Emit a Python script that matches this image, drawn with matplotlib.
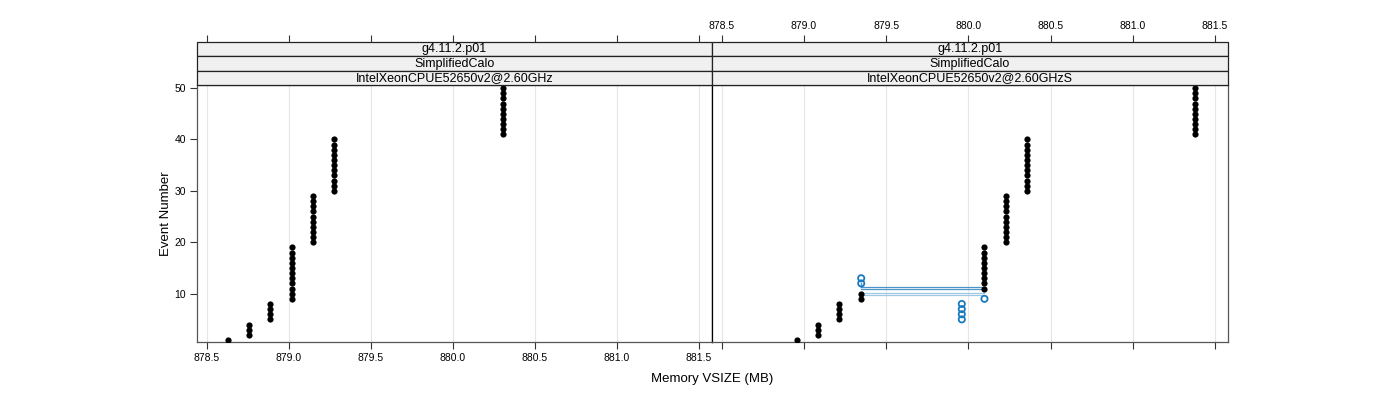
import matplotlib.pyplot as plt
from matplotlib.patches import Rectangle

plt.rcParams['font.family'] = ['Liberation Sans', 'DejaVu Sans']

# strip labels (top to bottom) for each panel
strip_left = ["g4.11.2.p01", "SimplifiedCalo", "IntelXeonCPUE52650v2@2.60GHz"]
strip_right = ["g4.11.2.p01", "SimplifiedCalo", "IntelXeonCPUE52650v2@2.60GHzS"]

# left panel: event number vs memory (MB)
left_events = [1, 2, 3, 4, 5, 6, 7, 8, 9, 10, 11, 12, 13, 14, 15, 16, 17, 18, 19, 20,
               21, 22, 23, 24, 25, 26, 27, 28, 29, 30, 31, 32, 33, 34, 35, 36, 37, 38, 39, 40,
               41, 42, 43, 44, 45, 46, 47, 48, 49, 50]
left_vsize = [878.63, 878.756, 878.756, 878.756, 878.884, 878.884, 878.884, 878.884,
              879.018, 879.018, 879.018, 879.018, 879.018, 879.018, 879.018, 879.018,
              879.018, 879.018, 879.018,
              879.146, 879.146, 879.146, 879.146, 879.146, 879.146, 879.146, 879.146,
              879.146, 879.146,
              879.274, 879.274, 879.274, 879.274, 879.274, 879.274, 879.274, 879.274,
              879.274, 879.274, 879.274,
              880.305, 880.305, 880.305, 880.305, 880.305, 880.305, 880.305, 880.305,
              880.305, 880.305]

# right panel
right_events = left_events
right_vsize = [878.957, 879.085, 879.085, 879.085, 879.213, 879.213, 879.213, 879.213,
               879.348, 879.348,
               880.098, 880.098, 880.098, 880.098, 880.098, 880.098, 880.098, 880.098,
               880.098,
               880.23, 880.23, 880.23, 880.23, 880.23, 880.23, 880.23, 880.23, 880.23, 880.23,
               880.355, 880.355, 880.355, 880.355, 880.355, 880.355, 880.355, 880.355,
               880.355, 880.355, 880.355,
               881.378, 881.378, 881.378, 881.378, 881.378, 881.378, 881.378, 881.378,
               881.378, 881.378]

# blue (differing) points in right panel
diff_events = [12, 13, 9, 5, 6, 7, 8]
diff_vsize = [879.348, 879.348, 880.098, 879.96, 879.96, 879.96, 879.96]

# connecting segments
seg_from = [879.348, 879.348, 879.348, 879.348]
seg_to = [880.098, 880.098, 880.098, 880.098]
seg_event = [11.3, 10.85, 10.1, 9.7]
seg_colors = ['#4a94c8', '#4a94c8', '#9cc8e4', '#9cc8e4']

xticks = [878.5, 879.0, 879.5, 880.0, 880.5, 881.0, 881.5]
yticks = [10, 20, 30, 40, 50]

W, H = 1400, 400
fig = plt.figure(figsize=(W / 100, H / 100), dpi=100)


def box(x0, y0, x1, y1):
    return [x0 / W, 1 - y1 / H, (x1 - x0) / W, (y1 - y0) / H]


axL = fig.add_axes(box(197, 85, 712, 342))
axR = fig.add_axes(box(712, 85, 1228, 342))
stL = fig.add_axes(box(197, 42, 712, 85))
stR = fig.add_axes(box(712, 42, 1228, 85))

xlim = (878.44, 881.58)
ylim = (0.6, 50.6)

for ax in (axL, axR):
    ax.set_xlim(xlim)
    ax.set_ylim(ylim)
    ax.set_xticks(xticks)
    ax.set_xticklabels([f"{t:.1f}" for t in xticks])
    for t in xticks:
        ax.axvline(t, color='#e6e6e6', lw=0.8, zorder=0)
    for s in ax.spines.values():
        s.set_color('#555555')
        s.set_linewidth(0.9)
    ax.tick_params(axis='both', direction='out', length=5, width=0.8, colors='#333333',
                   labelsize=7.5, labelcolor='black', pad=3)

axL.spines['right'].set_color('black')
axR.spines['left'].set_color('black')

axL.set_yticks(yticks)
axR.set_yticks([])
axR.tick_params(axis='x', labelbottom=False)

axL.scatter(left_vsize, left_events, s=20, color='black', zorder=3, linewidths=0)
axR.scatter(right_vsize, right_events, s=20, color='black', zorder=3, linewidths=0)

# connecting lines between black and blue points
axR.plot([seg_from[0], seg_from[0]], [diff_events[0], seg_event[0]], color=seg_colors[0], lw=1.0, zorder=2)
for x0, x1, y, c in zip(seg_from, seg_to, seg_event, seg_colors):
    axR.plot([x0, x1], [y, y], color=c, lw=0.9, zorder=2)

axR.scatter(diff_vsize, diff_events, s=20, facecolors='none', edgecolors='#1a7abf',
            linewidths=1.3, zorder=4)

# strips
for st, labels, show_labels in ((stL, strip_left, False), (stR, strip_right, True)):
    st.set_xlim(xlim)
    st.set_ylim(0, 3)
    st.set_yticks([])
    st.set_xticks(xticks)
    st.set_xticklabels([f"{t:.1f}" for t in xticks])
    st.xaxis.tick_top()
    st.tick_params(axis='x', direction='out', length=5, width=0.8, colors='#333333',
                   labelsize=7.5, labelcolor='black', pad=3, labeltop=show_labels,
                   labelbottom=False, bottom=False)
    for s in st.spines.values():
        s.set_visible(False)
    for i, lab in enumerate(labels):
        y0 = 2 - i
        st.add_patch(Rectangle((xlim[0], y0), xlim[1] - xlim[0], 1, facecolor='#f0f0f0',
                               edgecolor='#222222', lw=0.9, clip_on=False))
        st.text(sum(xlim) / 2, y0 + 0.5, lab, ha='center', va='center', fontsize=9)

fig.text(166 / W, 1 - 214 / H, "Event Number", rotation=90, ha='center', va='center', fontsize=9.5)
fig.text(712 / W, 1 - 379 / H, "Memory VSIZE (MB)", ha='center', va='center', fontsize=9.5)

fig.savefig("out.png", dpi=100)
